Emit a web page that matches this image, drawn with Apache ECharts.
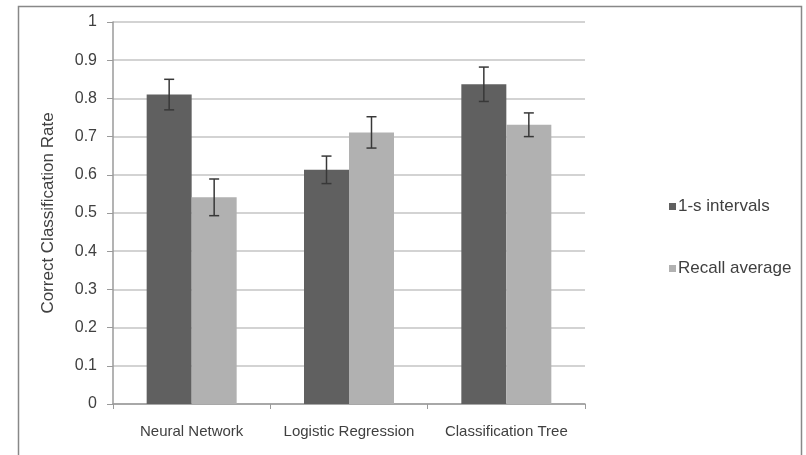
<!DOCTYPE html>
<html><head><meta charset="utf-8">
<script src="https://cdn.jsdelivr.net/npm/echarts@6/dist/echarts.min.js"></script>
<style>html,body{margin:0;padding:0;background:#fff}#c{width:806px;height:455px}</style>
</head><body><div id="c"></div>
<script>
const categories = ['Neural Network', 'Logistic Regression', 'Classification Tree'];
const seriesNames = ['1-s intervals', 'Recall average'];
const intervals = [0.81, 0.613, 0.837];
const recall = [0.541, 0.711, 0.731];
const intervalsErr = [0.04, 0.036, 0.045];
const recallErr = [0.048, 0.041, 0.031];
const yTicks = [0, 0.1, 0.2, 0.3, 0.4, 0.5, 0.6, 0.7, 0.8, 0.9, 1];

const chart = echarts.init(document.getElementById('c'), null, {renderer: 'canvas'});
const font = 'Liberation Sans, Arial, sans-serif';
const BW = 45;

function errSeries(vals, errs, side) {
  return {
    type: 'custom',
    z: 10,
    data: vals.map((v, i) => [i, v, errs[i]]),
    renderItem: function (params, api) {
      const i = api.value(0), v = api.value(1), e = api.value(2);
      const c = api.coord([i, v]);
      const x = c[0] + side * BW / 2;
      const top = api.coord([i, v + e])[1];
      const bot = api.coord([i, v - e])[1];
      const st = {stroke: '#383838', lineWidth: 1.5};
      return {type: 'group', children: [
        {type: 'line', shape: {x1: x, y1: top, x2: x, y2: bot}, style: st},
        {type: 'line', shape: {x1: x - 5, y1: top, x2: x + 5, y2: top}, style: st},
        {type: 'line', shape: {x1: x - 5, y1: bot, x2: x + 5, y2: bot}, style: st}
      ]};
    }
  };
}

chart.setOption({
  animation: false,
  backgroundColor: '#fff',
  graphic: [{type: 'rect', shape: {x: 18.5, y: 6.5, width: 783, height: 470}, style: {fill: 'none', stroke: '#888', lineWidth: 1.5}, silent: true}],
  grid: {left: 113, right: 221, top: 22, bottom: 51},
  legend: {
    orient: 'vertical', left: 664, top: 193, itemWidth: 7, itemHeight: 7, itemGap: 45,
    icon: 'rect', data: seriesNames,
    textStyle: {fontFamily: font, fontSize: 17, color: '#404040', padding: [0, 0, 0, -3]}
  },
  xAxis: {
    type: 'category', data: categories,
    axisLine: {lineStyle: {color: '#9a9a9a', width: 1.5}},
    axisTick: {show: true, interval: 0, length: 5, lineStyle: {color: '#9a9a9a'}},
    axisLabel: {interval: 0, fontFamily: font, fontSize: 15, color: '#404040', margin: 20}
  },
  yAxis: {
    type: 'value', min: 0, max: 1, interval: 0.1,
    name: 'Correct Classification Rate', nameLocation: 'middle', nameGap: 56,
    nameTextStyle: {fontFamily: font, fontSize: 17, color: '#404040'},
    axisLine: {show: true, lineStyle: {color: '#9a9a9a', width: 1.5}},
    axisTick: {show: true, length: 6, lineStyle: {color: '#9a9a9a'}},
    axisLabel: {fontFamily: font, fontSize: 16, color: '#404040', margin: 16,
      formatter: v => { const t = yTicks.find(x => Math.abs(x - v) < 1e-9); return t === undefined ? '' : String(t); }},
    splitLine: {show: true, lineStyle: {color: '#c4c4c4', width: 1.5}}
  },
  series: [
    {name: seriesNames[0], type: 'bar', data: intervals, barWidth: BW, barGap: '0%',
     itemStyle: {color: '#606060'}},
    {name: seriesNames[1], type: 'bar', data: recall, barWidth: BW, barGap: '0%',
     itemStyle: {color: '#b1b1b1'}},
    errSeries(intervals, intervalsErr, -1),
    errSeries(recall, recallErr, 1)
  ]
});
</script></body></html>
